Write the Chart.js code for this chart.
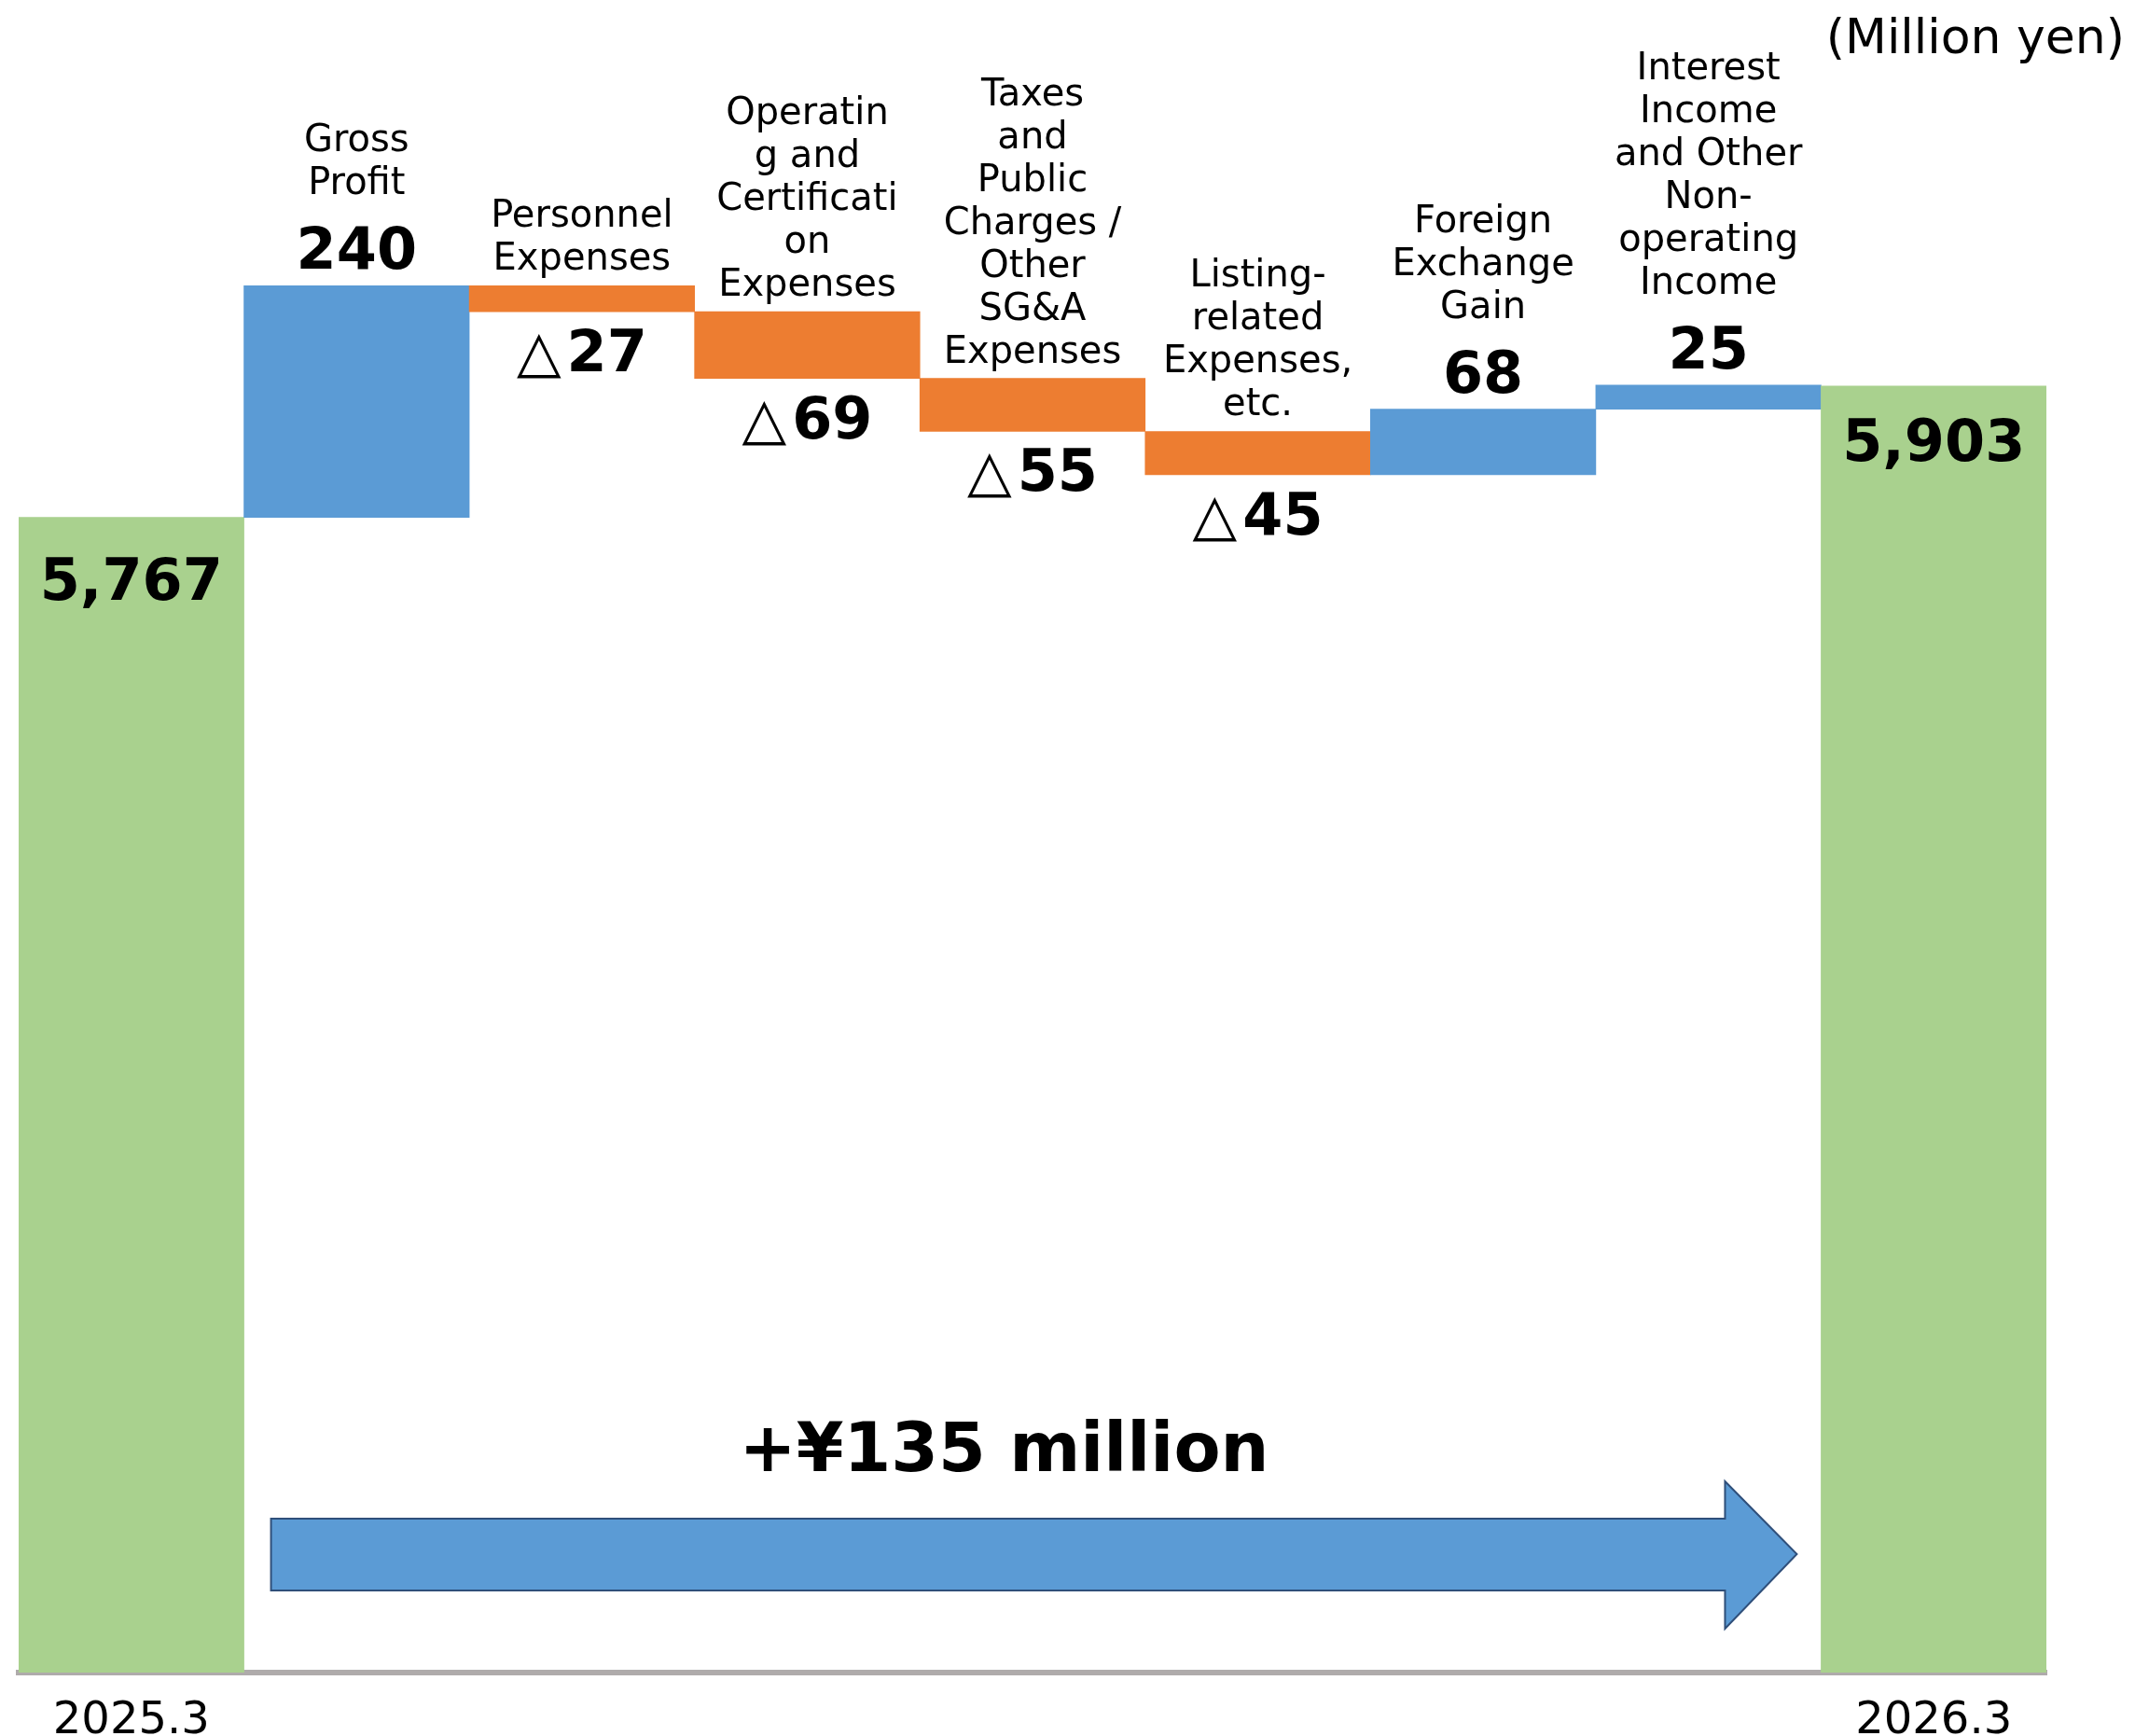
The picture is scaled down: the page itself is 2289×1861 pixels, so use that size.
<!DOCTYPE html>
<html lang="en">
<head>
    <title>Ordinary profit bridge</title>
    <script src="https://cdn.jsdelivr.net/npm/chart.js"></script>
    <style>
        html, body {
            margin: 0;
            padding: 0;
            background: #ffffff;
        }

        #wrap {
            position: relative;
            width: 2289px;
            height: 1861px;
        }
    </style>
</head>
<body>
<div id="wrap">
    <canvas id="myChart"></canvas>
</div>
<script>
    // data
    const tickLabels = ['2025.3', '', '', '', '', '', '', '', '2026.3'];
    const itemNames = [
        null,
        ['Gross', 'Profit'],
        ['Personnel', 'Expenses'],
        ['Operatin', 'g and', 'Certificati', 'on', 'Expenses'],
        ['Taxes', 'and', 'Public', 'Charges /', 'Other', 'SG&A', 'Expenses'],
        ['Listing-', 'related', 'Expenses,', 'etc.'],
        ['Foreign', 'Exchange', 'Gain'],
        ['Interest', 'Income', 'and Other', 'Non-', 'operating', 'Income'],
        null
    ];
    const startTotal = 5767;
    const endTotal = 5903;
    const changes = [240, -27, -69, -55, -45, 68, 25];
    const totalText = '+\u00a5135 million';
    const unitText = '(Million yen)';

    const GREEN = '#a9d18e';
    const BLUE = '#5b9bd5';
    const ORANGE = '#ed7d31';
    const FONT = "'DejaVu Sans', Verdana, sans-serif";
    const yMin = 4570;
    const yMax = 6303;

    // floating bars for the waterfall
    const bars = [[yMin, startTotal]];
    const colors = [GREEN];
    let level = startTotal;
    changes.forEach(c => {
        bars.push([level, level + c]);
        colors.push(c >= 0 ? BLUE : ORANGE);
        level += c;
    });
    bars.push([yMin, endTotal]);
    colors.push(GREEN);

    const valueTexts = [startTotal, ...changes, endTotal];

    function fmt(n) {
        return Math.abs(n).toLocaleString('en-US');
    }

    const labelPlugin = {
        id: 'labelPlugin',
        afterDatasetsDraw(chart) {
            const ctx = chart.ctx;
            const meta = chart.getDatasetMeta(0);
            const xs = chart.scales.x;
            const area = chart.chartArea;
            const catW = xs.width / tickLabels.length;

            ctx.save();
            ctx.fillStyle = '#000';
            ctx.textAlign = 'center';
            ctx.textBaseline = 'alphabetic';

            meta.data.forEach((bar, i) => {
                const top = Math.min(bar.y, bar.base);
                const bottom = Math.max(bar.y, bar.base);
                const x = bar.x;
                const v = valueTexts[i];
                const names = itemNames[i];

                if (i === 0 || i === meta.data.length - 1) {
                    ctx.font = 'bold 62px ' + FONT;
                    ctx.fillText(fmt(v), x, top + (i === 0 ? 88 : 80));
                    return;
                }

                ctx.font = '40px ' + FONT;
                if (v >= 0) {
                    const vBase = top - 18;
                    ctx.font = 'bold 62px ' + FONT;
                    ctx.fillText(fmt(v), x, vBase);
                    ctx.font = '40px ' + FONT;
                    let nb = vBase - 80;
                    for (let k = names.length - 1; k >= 0; k--) {
                        ctx.fillText(names[k], x, nb);
                        nb -= 46;
                    }
                } else {
                    let nb = top - 17;
                    for (let k = names.length - 1; k >= 0; k--) {
                        ctx.fillText(names[k], x, nb);
                        nb -= 46;
                    }
                    // triangle mark in regular weight, digits in bold
                    ctx.font = '62px ' + FONT;
                    const tri = '\u25b3';
                    const wTri = ctx.measureText(tri).width;
                    ctx.font = 'bold 62px ' + FONT;
                    const num = fmt(v);
                    const wNum = ctx.measureText(num).width;
                    const gap = 6;
                    const left = x - (wTri + gap + wNum) / 2;
                    const base = bottom + 64;
                    ctx.textAlign = 'left';
                    ctx.font = '62px ' + FONT;
                    ctx.fillText(tri, left, base);
                    ctx.font = 'bold 62px ' + FONT;
                    ctx.fillText(num, left + wTri + gap, base);
                    ctx.textAlign = 'center';
                }
            });

            // unit note
            ctx.font = '52px ' + FONT;
            ctx.textAlign = 'right';
            ctx.fillText(unitText, 2278, 57);

            // big arrow between the two totals
            const x0 = xs.getPixelForValue(1) - catW / 2 + 29;
            const xTip = xs.getPixelForValue(tickLabels.length - 1) - catW / 2 - 26;
            const xHead = xTip - 77;
            const cy = area.bottom - 127;
            ctx.beginPath();
            ctx.moveTo(x0, cy - 38);
            ctx.lineTo(xHead, cy - 38);
            ctx.lineTo(xHead, cy - 78);
            ctx.lineTo(xTip, cy);
            ctx.lineTo(xHead, cy + 80);
            ctx.lineTo(xHead, cy + 39);
            ctx.lineTo(x0, cy + 39);
            ctx.closePath();
            ctx.fillStyle = BLUE;
            ctx.fill();
            ctx.lineWidth = 2;
            ctx.strokeStyle = '#2f4f7a';
            ctx.stroke();

            ctx.fillStyle = '#000';
            ctx.textAlign = 'center';
            ctx.font = 'bold 73px ' + FONT;
            ctx.fillText(totalText, (x0 + xTip) / 2 - 32, area.bottom - 216);
            ctx.restore();
        }
    };

    const ctx = document.getElementById('myChart').getContext('2d');
    const chart = new Chart(ctx, {
        type: 'bar',
        data: {
            labels: tickLabels,
            datasets: [
                {
                    data: bars,
                    backgroundColor: colors,
                    borderWidth: 0,
                    barPercentage: 1,
                    categoryPercentage: 1,
                },
            ],
        },
        options: {
            responsive: true,
            maintainAspectRatio: false,
            animation: false,
            layout: {
                padding: {left: 20, right: 95, top: 0, bottom: 0}
            },
            plugins: {
                legend: {display: false},
                tooltip: {enabled: false},
            },
            scales: {
                x: {
                    grid: {display: false, drawTicks: false},
                    border: {display: true, color: '#afabab', width: 6},
                    ticks: {
                        color: '#000',
                        padding: 24,
                        maxRotation: 0,
                        autoSkip: false,
                        font: {family: FONT, size: 48, lineHeight: 1.2},
                    },
                    afterFit: function (scale) {
                        scale.height = 68;
                    },
                },
                y: {
                    display: false,
                    min: yMin,
                    max: yMax,
                },
            },
        },
        plugins: [labelPlugin],
    });
</script>
</body>
</html>
